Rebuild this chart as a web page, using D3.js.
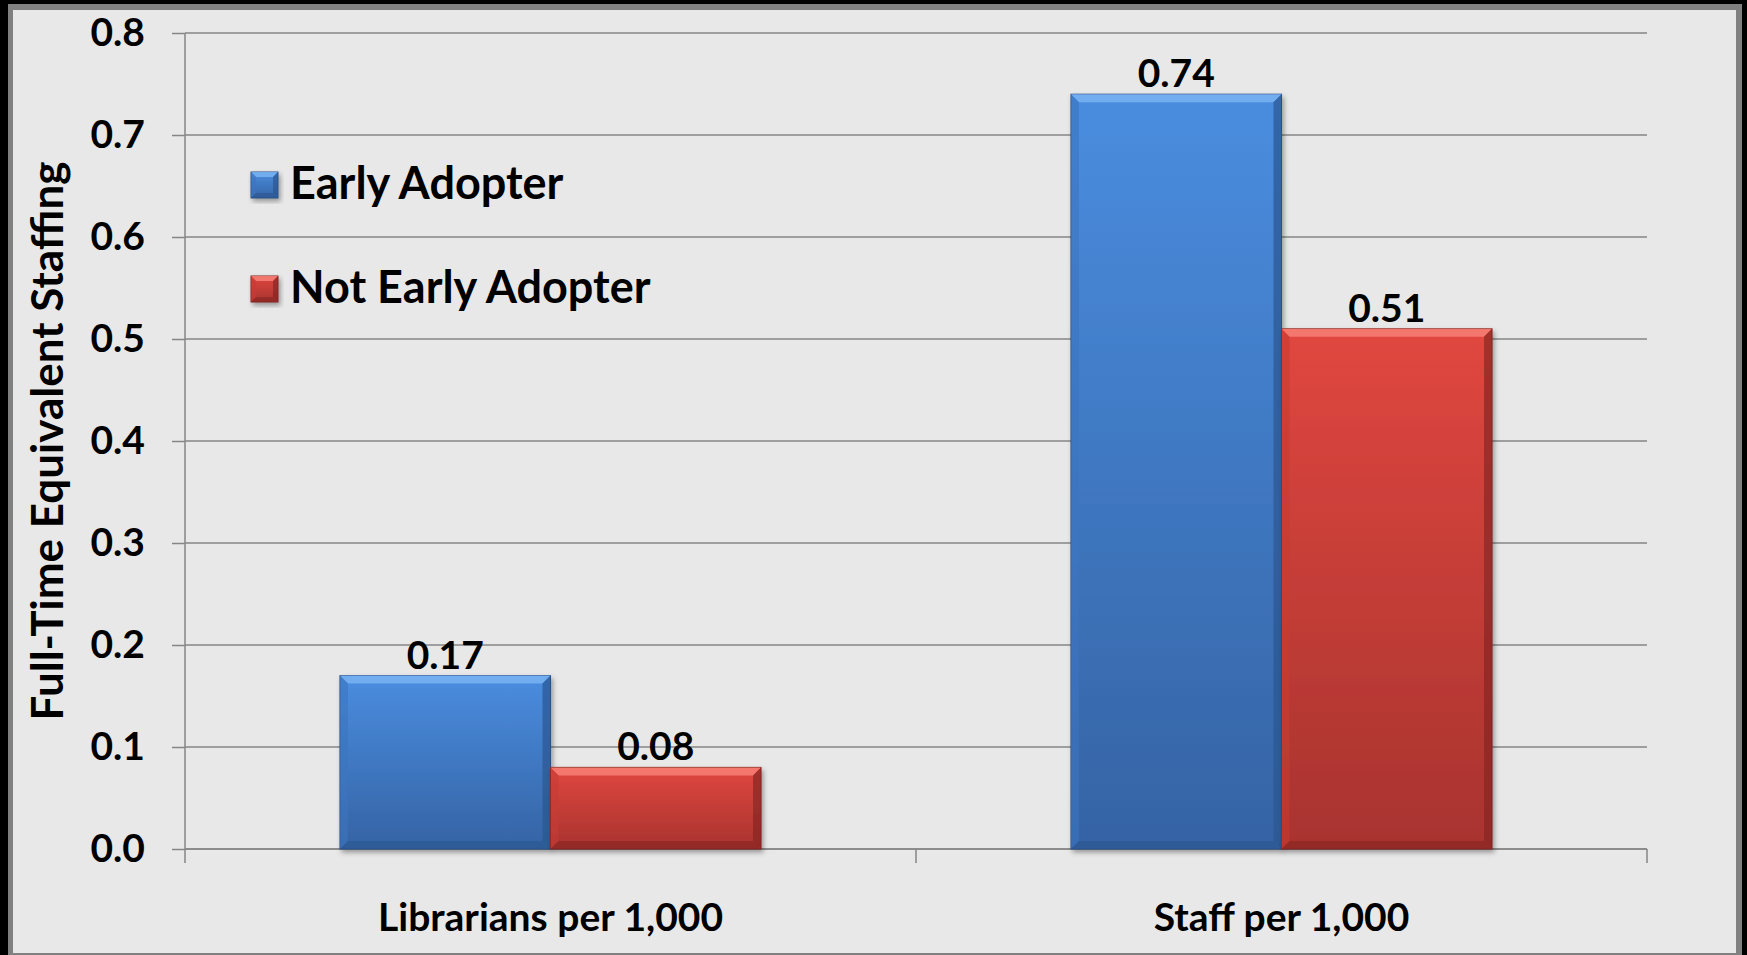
<!DOCTYPE html>
<html>
<head>
<meta charset="utf-8">
<script src="https://d3js.org/d3.v7.min.js"></script>
<style>
    body { margin: 0; background: #000; }
    text { font-family: Lato, "Open Sans", sans-serif; font-weight: bold; fill: #000; }
</style>
</head>
<body>
<svg width="1747" height="955"></svg>
<script>
    var categories = ["Librarians per 1,000", "Staff per 1,000"];
    var seriesNames = ["Early Adopter", "Not Early Adopter"];
    var earlyAdopter = [0.17, 0.74];
    var notEarlyAdopter = [0.08, 0.51];
    var yTicks = [0, 0.1, 0.2, 0.3, 0.4, 0.5, 0.6, 0.7, 0.8];

    var palette = {
        "Early Adopter": {top: "#4a8ddf", bottom: "#3563a4", light: "#78b3f2", side: "#3c74bf", dark: "#2b5590", edge: "#2a4f84"},
        "Not Early Adopter": {top: "#e0473f", bottom: "#a8332f", light: "#f78077", side: "#c63c36", dark: "#862623", edge: "#7d2522"}
    };

    var svg = d3.select("svg");

    // frame
    svg.append("rect").attr("x", 8).attr("y", 4).attr("width", 1734).attr("height", 960).attr("fill", "#808080");
    svg.append("rect").attr("x", 13).attr("y", 10).attr("width", 1723).attr("height", 943).attr("fill", "#e8e8e8");

    var defs = svg.append("defs");
    seriesNames.forEach(function(s, i) {
        var g = defs.append("linearGradient").attr("id", "grad" + i)
            .attr("x1", 0).attr("y1", 0).attr("x2", 0).attr("y2", 1);
        g.append("stop").attr("offset", "0%").attr("stop-color", palette[s].top);
        g.append("stop").attr("offset", "100%").attr("stop-color", palette[s].bottom);
    });
    var shadow = defs.append("filter").attr("id", "shadow")
        .attr("x", "-10%").attr("y", "-10%").attr("width", "130%").attr("height", "130%");
    shadow.append("feDropShadow").attr("dx", 2).attr("dy", 3).attr("stdDeviation", 2.5)
        .attr("flood-color", "#000").attr("flood-opacity", 0.35);

    var mL = 185, mR = 1647, mT = 33, mB = 849;

    var y = d3.scaleLinear().domain([0, 0.8]).range([mB, mT]);
    var x0 = d3.scaleBand().domain(categories).range([mL, mR])
        .paddingInner(0.424).paddingOuter(0.212);
    var x1 = d3.scaleBand().domain(seriesNames).range([0, x0.bandwidth()]);

    var rows = categories.map(function(c, i) {
        return {cat: c, values: [
            {series: seriesNames[0], idx: 0, v: earlyAdopter[i]},
            {series: seriesNames[1], idx: 1, v: notEarlyAdopter[i]}
        ]};
    });

    // gridlines
    svg.append("g").selectAll("line").data(yTicks).enter().append("line")
        .attr("x1", mL).attr("x2", mR)
        .attr("y1", function(d) { return y(d); }).attr("y2", function(d) { return y(d); })
        .attr("stroke", "#868686").attr("stroke-width", 1.5);

    // y axis
    var yAxis = svg.append("g").attr("transform", "translate(" + mL + ",0)")
        .call(d3.axisLeft(y).tickValues(yTicks).tickFormat(d3.format(".1f")).tickSize(13).tickPadding(27));
    yAxis.selectAll("path, line").attr("stroke", "#868686").attr("stroke-width", 1.5);
    yAxis.select(".domain").attr("d", "M0," + mB + "V" + mT);
    yAxis.selectAll("text").style("font-size", "39px").style("font-family", "Lato").style("font-weight", "bold");

    // x axis
    var xAxis = svg.append("g").attr("transform", "translate(0," + mB + ")")
        .call(d3.axisBottom(x0).tickSize(0).tickPadding(54));
    xAxis.select(".domain").attr("stroke", "#868686").attr("stroke-width", 1.5)
        .attr("d", "M" + mL + ",0H" + mR);
    xAxis.selectAll("text").style("font-size", "39px").style("font-family", "Lato").style("font-weight", "bold");
    var bounds = categories.map(function(c) { return x0(c) - x0.step() * x0.paddingInner() / 2; }).concat([mR]);
    xAxis.selectAll(".bound").data(bounds).enter().append("line").attr("class", "bound")
        .attr("x1", function(d) { return d; }).attr("x2", function(d) { return d; })
        .attr("y1", 0).attr("y2", 14)
        .attr("stroke", "#868686").attr("stroke-width", 1.5);

    // beveled box
    function bevelBox(g, bx, by, w, h, s, i, b) {
        var p = palette[s];
        b = Math.min(b, w / 2, h / 2);
        g.append("rect").attr("x", bx).attr("y", by).attr("width", w).attr("height", h)
            .attr("fill", "url(#grad" + i + ")").attr("stroke", p.edge).attr("stroke-width", 1);
        g.append("polygon").attr("fill", p.light).attr("opacity", 0.85)
            .attr("points", [[bx, by], [bx + w, by], [bx + w - b, by + b], [bx + b, by + b]].join(" "));
        g.append("polygon").attr("fill", p.side).attr("opacity", 0.6)
            .attr("points", [[bx, by], [bx + b, by + b], [bx + b, by + h - b], [bx, by + h]].join(" "));
        g.append("polygon").attr("fill", p.dark).attr("opacity", 0.7)
            .attr("points", [[bx + w, by], [bx + w, by + h], [bx + w - b, by + h - b], [bx + w - b, by + b]].join(" "));
        g.append("polygon").attr("fill", p.dark).attr("opacity", 0.6)
            .attr("points", [[bx, by + h], [bx + b, by + h - b], [bx + w - b, by + h - b], [bx + w, by + h]].join(" "));
    }

    // bars
    var groups = svg.append("g").selectAll("g").data(rows).enter().append("g")
        .attr("transform", function(d) { return "translate(" + x0(d.cat) + ",0)"; });
    groups.each(function(d) {
        var gg = d3.select(this);
        d.values.forEach(function(v) {
            var bar = gg.append("g").attr("filter", "url(#shadow)");
            bevelBox(bar, x1(v.series), y(v.v), x1.bandwidth(), y(0) - y(v.v), v.series, v.idx, 8);
        });
        gg.selectAll(".val").data(d.values).enter().append("text").attr("class", "val")
            .attr("x", function(v) { return x1(v.series) + x1.bandwidth() / 2; })
            .attr("y", function(v) { return y(v.v) - 7; })
            .attr("text-anchor", "middle")
            .style("font-size", "39px")
            .text(function(v) { return v.v.toFixed(2); });
    });

    // y title
    svg.append("text")
        .attr("transform", "translate(63," + ((mT + mB) / 2) + ") rotate(-90)")
        .attr("text-anchor", "middle")
        .style("font-size", "44px")
        .text("Full-Time Equivalent Staffing");

    // legend
    var legend = svg.append("g").attr("transform", "translate(251,172)");
    seriesNames.forEach(function(s, i) {
        var row = legend.append("g").attr("transform", "translate(0," + (i * 104) + ")");
        bevelBox(row.append("g").attr("filter", "url(#shadow)"), 0, 0, 27, 26, s, i, 5);
        row.append("text").attr("x", 39).attr("y", 27).style("font-size", "45px").text(s);
    });
</script>
</body>
</html>
